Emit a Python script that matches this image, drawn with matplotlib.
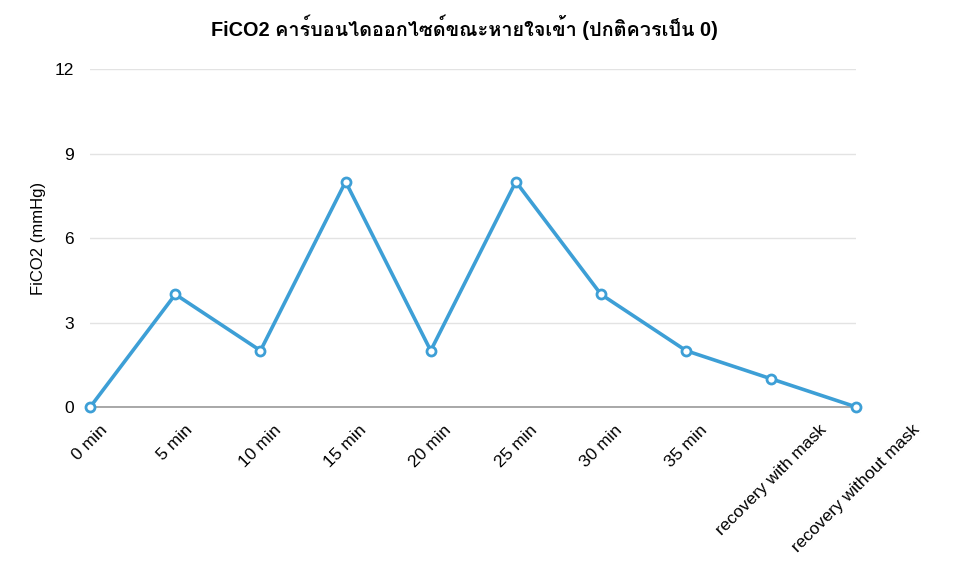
import matplotlib
matplotlib.use("Agg")
import matplotlib.pyplot as plt
from matplotlib import font_manager
from matplotlib.ft2font import FT2Font

labels = ["0 min", "5 min", "10 min", "15 min", "20 min", "25 min",
          "30 min", "35 min", "recovery with mask", "recovery without mask"]
fico2 = [0, 4, 2, 8, 2, 8, 4, 2, 1, 0]
yticks = [0, 3, 6, 9, 12]

title = "FiCO2 คาร์บอนไดออกไซด์ขณะหายใจเข้า (ปกติควรเป็น 0)"


def find_thai_font():
    # look for any installed font that has Thai glyphs
    for f in font_manager.fontManager.ttflist:
        try:
            cmap = FT2Font(f.fname).get_charmap()
        except Exception:
            continue
        if 0x0E04 in cmap and 0x0E32 in cmap:
            return f.name
    return None


thai = find_thai_font()
families = ["Liberation Sans", "DejaVu Sans"]
if thai:
    families = ["Liberation Sans", thai, "DejaVu Sans"]
plt.rcParams["font.family"] = families

fig = plt.figure(figsize=(9.6, 5.61), dpi=100)
ax = fig.add_axes([0.094, 0.2745, 0.798, 0.6025])

x = list(range(len(labels)))
ax.plot(x, fico2, color="#3d9fd6", lw=2.6, marker="o", ms=6.5,
        mfc="white", mec="#3d9fd6", mew=2, clip_on=False, zorder=3)

ax.set_xlim(0, len(labels) - 1)
ax.set_ylim(0, 12)
ax.set_yticks(yticks)
ax.set_xticks(x)
ax.set_xticklabels(labels, rotation=45, fontsize=12.5)
ax.tick_params(axis="y", labelsize=12.5, length=0, pad=12)
ax.tick_params(axis="x", length=0, pad=11)
ax.grid(axis="y", color="#e3e3e3", lw=1)
for s in ["top", "right", "left"]:
    ax.spines[s].set_visible(False)
ax.spines["bottom"].set_color("#9a9a9a")
ax.spines["bottom"].set_linewidth(1.2)
ax.set_ylabel("FiCO2 (mmHg)", fontsize=12, labelpad=6)
ax.set_title(title, fontsize=14.3, fontweight="bold", pad=24, x=0.488)

fig.savefig("out.png", dpi=100, facecolor="white")
